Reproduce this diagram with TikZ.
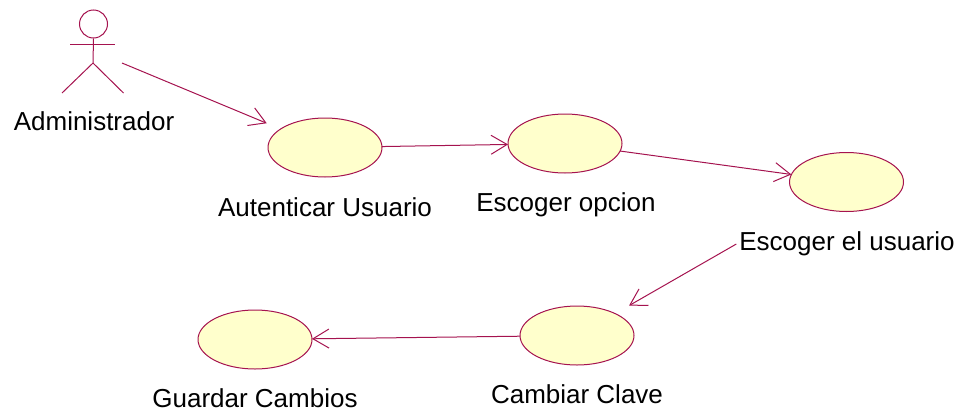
\documentclass[tikz,border=0pt]{standalone}
\usepackage{fontspec}
\setmainfont{Liberation Sans}
\usetikzlibrary{shapes,arrows.meta}

\definecolor{rosered}{HTML}{A5134F}
\definecolor{roseyellow}{HTML}{FFFFCC}

\tikzset{
  usecase/.style={draw=rosered,fill=roseyellow,ellipse,line width=.5pt,minimum width=57pt,minimum height=29.5pt,inner sep=0pt,outer sep=0pt},
  lbl/.style={inner sep=0pt,font=\fontsize{13}{15}\selectfont},
  assoc/.style={draw=rosered,line width=.5pt,-{Straight Barb[length=8pt,width=9.5pt,line width=.5pt]}},
}

\begin{document}
\begin{tikzpicture}[x=.5pt,y=-.5pt]
\useasboundingbox (0,0) rectangle (958,413);

% actor
\node[circle,draw=rosered,line width=.5pt,minimum size=14pt,inner sep=0pt] (head) at (93.5,24) {};
\draw[rosered,line width=.5pt] (head.south) -- (93,63) -- (62,93);
\draw[rosered,line width=.5pt] (93,63) -- (123.5,93);
\draw[rosered,line width=.5pt] (70,44) -- (115,44);
\node[lbl] (admin) at (94,121) {Administrador};
\coordinate (actor) at (122,63);

% use cases
\node[usecase] (autenticar) at (325,147.5) {};
\node[lbl] (autenticarlbl) at (325,207) {Autenticar Usuario};
\node[usecase] (opcion) at (565,143.5) {};
\node[lbl] (opcionlbl) at (566,204.5) {Escoger opcion};
\node[usecase] (usuario) at (846.5,182) {};
\node[lbl,outer sep=1.5pt] (usuariolbl) at (847,244) {Escoger el usuario};
\node[usecase] (clave) at (577,335.5) {};
\node[lbl] (clavelbl) at (577,394) {Cambiar Clave};
\node[usecase] (guardar) at (255,339.5) {};
\node[lbl] (guardarlbl) at (255,398) {Guardar Cambios};

% flow
\draw[assoc,shorten >=7.5pt] (actor) -- (autenticar);
\draw[assoc] (autenticar) -- (opcion);
\draw[assoc] (opcion) -- (usuario);
\draw[assoc,shorten >=8pt] (usuariolbl.west) -- (clave);
\draw[assoc] (clave) -- (guardar);
\end{tikzpicture}
\end{document}
